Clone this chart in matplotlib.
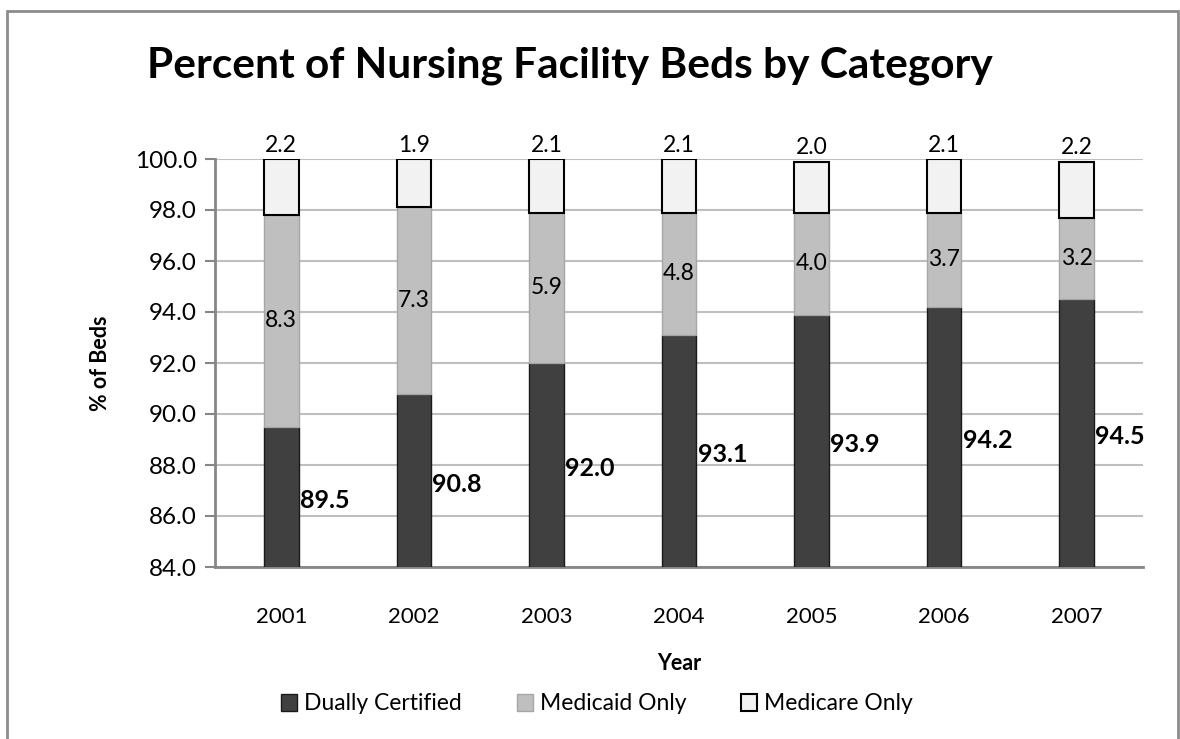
import matplotlib
matplotlib.use("Agg")
import matplotlib.pyplot as plt
import numpy as np
from matplotlib.patches import Rectangle

years = ["2001", "2002", "2003", "2004", "2005", "2006", "2007"]
dually = [89.5, 90.8, 92.0, 93.1, 93.9, 94.2, 94.5]
medicaid = [8.3, 7.3, 5.9, 4.8, 4.0, 3.7, 3.2]
medicare = [2.2, 1.9, 2.1, 2.1, 2.0, 2.1, 2.2]
y_ticks = [84.0, 86.0, 88.0, 90.0, 92.0, 94.0, 96.0, 98.0, 100.0]

plt.rcParams['font.family'] = ['Lato', 'DejaVu Sans']

fig = plt.figure(figsize=(11.8, 7.39), dpi=100)
W, H = 1180, 739
# outer border
fig.patches.append(Rectangle((7 / W, -10 / H), 1171 / W, (739 - 11 + 10) / H, transform=fig.transFigure,
                             fill=False, edgecolor='#8c8c8c', linewidth=2))

ax = fig.add_axes([215 / W, 1 - 567 / H, (1143 - 215) / W, (567 - 159) / H])
x = np.arange(len(years))
bw = 0.26
dark, mid, light = '#404040', '#bfbfbf', '#f2f2f2'

b1 = ax.bar(x, dually, bw, bottom=0, color=dark, edgecolor='#1a1a1a', linewidth=1, label='Dually Certified', zorder=3)
bot2 = np.array(dually)
b2 = ax.bar(x, medicaid, bw, bottom=bot2, color=mid, edgecolor='#a6a6a6', linewidth=1, label='Medicaid Only', zorder=3)
bot3 = bot2 + np.array(medicaid)
b3 = ax.bar(x, medicare, bw, bottom=bot3, color=light, edgecolor='black', linewidth=1.5, label='Medicare Only', zorder=3)

ax.set_ylim(84, 100)
ax.set_xlim(-0.5, len(years) - 0.5)
ax.set_yticks(y_ticks)
ax.set_yticklabels([f"{v:.1f}" for v in y_ticks], fontsize=17.5)
ax.set_xticks(x)
ax.set_xticklabels(years, fontsize=16)
ax.tick_params(axis='x', length=0, pad=29)
ax.tick_params(axis='y', length=7, width=1.5, color='#868686', pad=6)
ax.grid(axis='y', color='#bfbfbf', linewidth=1.5, zorder=0)
for s in ['top', 'right']:
    ax.spines[s].set_visible(False)
for s in ['left', 'bottom']:
    ax.spines[s].set_color('#868686')
    ax.spines[s].set_linewidth(2)

for i in range(len(years)):
    ax.text(x[i] + bw / 2 + 0.01, (84 + dually[i]) / 2 - 0.15, f"{dually[i]:.1f}", ha='left', va='center',
            fontsize=18, fontweight='bold', zorder=5)
    ax.text(x[i], bot2[i] + medicaid[i] / 2, f"{medicaid[i]:.1f}", ha='center', va='center',
            fontsize=16.5, zorder=5)
    ax.text(x[i], bot3[i] + medicare[i] + 0.12, f"{medicare[i]:.1f}", ha='center', va='bottom',
            fontsize=16.5, zorder=5)

ax.set_ylabel('% of Beds', fontsize=15.5, fontweight='bold')
ax.yaxis.set_label_coords((111 - 215) / 928, 0.5)
ax.set_xlabel('Year', fontsize=15.5, fontweight='bold')
ax.xaxis.set_label_coords(0.5, -(653 - 567) / 408)

fig.text(570 / W, 1 - 66 / H, 'Percent of Nursing Facility Beds by Category', ha='center', va='center',
         fontsize=30.5, fontweight='bold')

leg = fig.legend(handles=[b1, b2, b3], loc='center', bbox_to_anchor=(597 / W, 1 - 704 / H), ncol=3,
                 frameon=False, fontsize=16.5, handlelength=0.7, handleheight=0.7, handletextpad=0.3,
                 columnspacing=2.4)

fig.savefig('out.png', dpi=100)
